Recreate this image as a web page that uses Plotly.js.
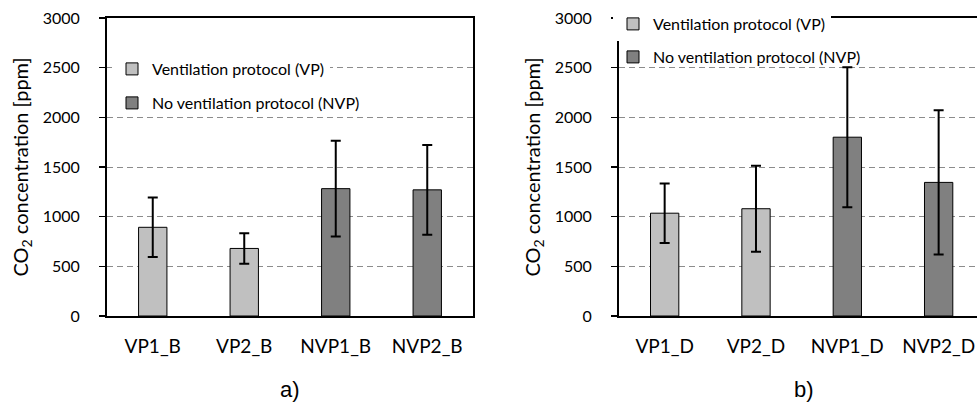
<!DOCTYPE html>
<html>
<head>
<meta charset="utf-8">
<script src="https://cdn.plot.ly/plotly-3.0.1.min.js"></script>
<style>html,body{margin:0;padding:0;background:#fff;}#chart{width:977px;height:403px;}</style>
</head>
<body>
<div id="chart"></div>
<script>
// ---- data ----
const categoriesA = ['VP1_B', 'VP2_B', 'NVP1_B', 'NVP2_B'];
const meanA = [893, 680, 1282, 1270];
const sdA = [300, 153, 482, 452];

const categoriesB = ['VP1_D', 'VP2_D', 'NVP1_D', 'NVP2_D'];
const meanB = [1035, 1080, 1800, 1345];
const sdB = [300, 432, 704, 726];

const seriesNames = ['Ventilation protocol (VP)', 'No ventilation protocol (NVP)'];
const seriesColors = ['#c0c0c0', '#808080'];
const yTickVals = [0, 500, 1000, 1500, 2000, 2500, 3000];
const panelLabels = ['a)', 'b)'];
const yTitle = 'CO<sub>2</sub> concentration [ppm]';

// ---- build ----
const FONT = 'Lato, "Open Sans", sans-serif';
function barTrace(cats, vals, errs, idx, xa, ya, leg) {
  return {
    type: 'bar', name: seriesNames[idx], x: cats, y: vals,
    xaxis: xa, yaxis: ya, legend: leg,
    width: 0.31,
    marker: { color: seriesColors[idx], line: { color: '#000', width: 1 } },
    error_y: { type: 'data', array: errs, visible: true, color: '#000', thickness: 2, width: 5 },
    hoverinfo: 'x+y'
  };
}
const traces = [
  barTrace(categoriesA.slice(0, 2), meanA.slice(0, 2), sdA.slice(0, 2), 0, 'x', 'y', 'legend'),
  barTrace(categoriesA.slice(2), meanA.slice(2), sdA.slice(2), 1, 'x', 'y', 'legend2'),
  barTrace(categoriesB.slice(0, 2), meanB.slice(0, 2), sdB.slice(0, 2), 0, 'x2', 'y2', 'legend3'),
  barTrace(categoriesB.slice(2), meanB.slice(2), sdB.slice(2), 1, 'x2', 'y2', 'legend4')
];

const W = 977, H = 403;
const yDom = [(H - 316) / H, (H - 18) / H];
function xAxis(cats, dom, rng, anchor) {
  return {
    domain: dom, anchor: anchor, type: 'category', categoryorder: 'array', categoryarray: cats,
    range: rng, showline: true, linecolor: '#000', linewidth: 2, mirror: true,
    ticks: '', showgrid: false, zeroline: false, fixedrange: true,
    ticklabelstandoff: 12,
    tickfont: { family: FONT, size: 19, color: '#000' }
  };
}
function yAxis(anchor, mirror) {
  return {
    domain: yDom, anchor: anchor, range: [0, 3000], tickvals: yTickVals,
    showline: true, linecolor: '#000', linewidth: 2, mirror: mirror,
    ticks: 'outside', ticklen: 6, tickwidth: 1.5, tickcolor: '#000',
    showgrid: true, gridcolor: '#8c8c8c', gridwidth: 1, griddash: '6px,4px',
    zeroline: false, fixedrange: true, ticklabelstandoff: 16,
    tickfont: { family: FONT, size: 16, color: '#000' },
    title: { text: yTitle, font: { family: FONT, size: 20, color: '#000' }, standoff: 9 }
  };
}
function legendBox(textStartPx, rowCenterPx, bg) {
  return {
    x: (textStartPx - 40) / W, y: 1 - (rowCenterPx - 16) / H, xanchor: 'left', yanchor: 'top',
    bgcolor: bg, borderwidth: 0,
    font: { family: FONT, size: 16, color: '#000' }
  };
}
const labelFont = { family: 'Liberation Sans, Arial, sans-serif', size: 22, color: '#000' };
const layout = {
  width: W, height: H,
  margin: { l: 0, r: 0, t: 0, b: 0 },
  paper_bgcolor: '#fff', plot_bgcolor: '#fff',
  barmode: 'overlay', showlegend: true,
  xaxis: xAxis(categoriesA, [107 / W, 473 / W], [-0.5, 3.5], 'y'),
  yaxis: yAxis('x', true),
  xaxis2: xAxis(categoriesB, [619 / W, 1], [-0.5, 3.42], 'y2'),
  yaxis2: yAxis('x2', false),
  legend: legendBox(152, 68, '#fff'),
  legend2: legendBox(152, 102, 'rgba(0,0,0,0)'),
  legend3: legendBox(653, 23, '#fff'),
  legend4: legendBox(653, 56, 'rgba(0,0,0,0)'),
  annotations: [
    { text: panelLabels[0], xref: 'paper', yref: 'paper', x: 290 / W, y: 1 - 389 / H, showarrow: false,
      xanchor: 'center', yanchor: 'middle', font: labelFont },
    { text: panelLabels[1], xref: 'paper', yref: 'paper', x: 804 / W, y: 1 - 389 / H, showarrow: false,
      xanchor: 'center', yanchor: 'middle', font: labelFont }
  ]
};

Plotly.newPlot('chart', traces, layout, { displayModeBar: false, staticPlot: true });
</script>
</body>
</html>
